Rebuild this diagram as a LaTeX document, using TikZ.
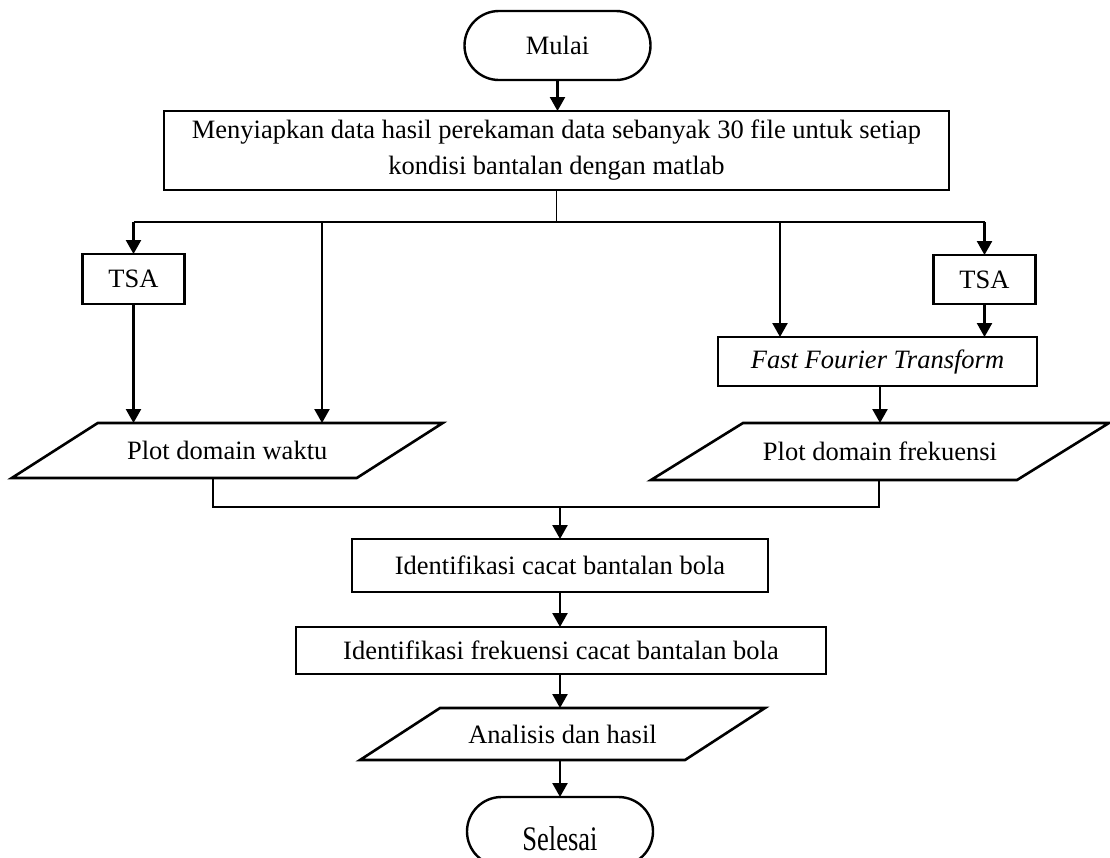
\documentclass[tikz,border=0pt]{standalone}
\usepackage{fontspec}
\setmainfont{Liberation Serif}
\usetikzlibrary{arrows.meta,calc}
\newcommand\fbig{\fontsize{26.5}{36}\selectfont}
\begin{document}
\begin{tikzpicture}[x=1pt,y=-1pt,
  base/.style={inner sep=0pt, outer sep=0pt, font=\fbig, align=center},
  boxnode/.style={base, draw, line width=2.6pt},
  term/.style={base, draw, line width=2.4pt, rounded corners=34.5pt, minimum width=186pt, minimum height=69pt},
  txt/.style={base},
  para/.style={line width=2.6pt, line join=miter},
  arr/.style={line width=2.4pt, -{Triangle[width=15pt,length=14pt]}},
  thinline/.style={line width=1.2pt},
]
\useasboundingbox (0,0) rectangle (1110,857);

% terminators
\node[term] (mulai) at (557.5,45.5) {Mulai};
\node[term] (sel) at (560,831.5) {\raisebox{-18.5pt}[0pt][0pt]{\scalebox{1}[1.3]{Selesai}}};

% main box
\node[boxnode, minimum width=785pt, minimum height=79pt] (prep) at (556.5,150.5)
  {Menyiapkan data hasil perekaman data sebanyak 30 file untuk setiap\\kondisi bantalan dengan matlab};

% TSA boxes
\node[boxnode, minimum width=102pt, minimum height=50pt] (tsa1) at (133.5,279) {TSA};
\node[boxnode, minimum width=102pt, minimum height=49pt] (tsa2) at (984.5,279.5) {TSA};

% FFT
\node[boxnode, minimum width=319pt, minimum height=49pt] (fft) at (877.5,361.5) {\textit{Fast Fourier Transform}};

% parallelogram text nodes
\node[txt, minimum width=345pt, minimum height=55pt] (pw) at (227.25,450.5) {Plot domain waktu};
\node[txt, minimum width=366pt, minimum height=57pt] (pf) at (880,451.5) {Plot domain frekuensi};
\node[txt, minimum width=325pt, minimum height=52pt] (an) at (562.5,734) {Analisis dan hasil};

\draw[para] ($(pw.north west)+(43,0)$) -- ($(pw.north east)+(43,0)$) -- ($(pw.south east)+(-43,0)$) -- ($(pw.south west)+(-43,0)$) -- cycle;
\draw[para] ($(pf.north west)+(46,0)$) -- ($(pf.north east)+(46,0)$) -- ($(pf.south east)+(-46,0)$) -- ($(pf.south west)+(-46,0)$) -- cycle;
\draw[para] ($(an.north west)+(40,0)$) -- ($(an.north east)+(40,0)$) -- ($(an.south east)+(-40,0)$) -- ($(an.south west)+(-40,0)$) -- cycle;

% identification boxes
\node[boxnode, minimum width=416pt, minimum height=53pt] (id1) at (560,565.5) {Identifikasi cacat bantalan bola};
\node[boxnode, minimum width=530pt, minimum height=47pt] (id2) at (561,650.5) {Identifikasi frekuensi cacat bantalan bola};

% split coordinates
\coordinate (s) at (556.5,222);
\coordinate (sl) at (133.5,222);
\coordinate (sm1) at (322,222);
\coordinate (sm2) at (780,222);
\coordinate (sr) at (984.5,222);
\coordinate (jl) at (213,507);
\coordinate (jm) at (560,507);
\coordinate (jr) at (879,507);

% connectors
\draw[arr] (mulai.south) -- (mulai.south |- prep.north);
\draw[thinline] (prep.south) -- (s);
\draw[thinline] (sl) -- (sr);
\draw[arr] (sl) -- (tsa1.north);
\draw[arr] (tsa1.south) -- (tsa1.south |- pw.north);
\draw[arr] (sm1) -- (sm1 |- pw.north);
\draw[arr] (sm2) -- (sm2 |- fft.north);
\draw[arr] (sr) -- (tsa2.north);
\draw[arr] (tsa2.south) -- (tsa2.south |- fft.north);
\draw[arr] (fft.south -| pf.north) -- (pf.north);
\draw[thinline] (jl |- pw.south) -- (jl) -- (jr) -- (jr |- pf.south);
\draw[arr] (jm) -- (id1.north);
\draw[arr] (id1.south) -- (id1.south |- id2.north);
\draw[arr] (id2.south -| jm) -- (jm |- an.north);
\draw[arr] (an.south -| sel.north) -- (sel.north);
\end{tikzpicture}
\end{document}
